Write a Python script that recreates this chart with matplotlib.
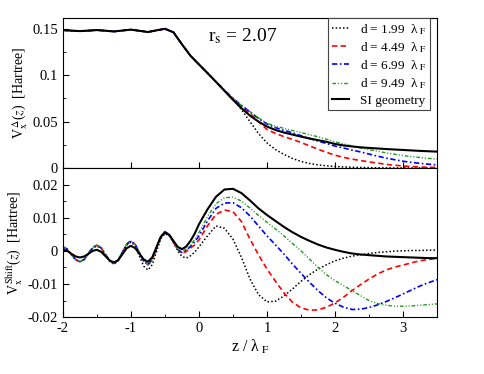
import numpy as np
import matplotlib
matplotlib.use("Agg")
import matplotlib.pyplot as plt
from matplotlib.ticker import MultipleLocator, FuncFormatter

plt.rcParams['font.family'] = ['Liberation Serif', 'DejaVu Serif']
plt.rcParams['mathtext.fontset'] = 'stix'

# sample positions (z / lambda_F)
z_up = np.arange(-2.0, 3.5001, 0.125)
z_lo = np.concatenate([np.arange(-2.0, 0.0, 0.0625), np.arange(0.0, 3.5001, 0.125)])

labels = [r'd = 1.99  λ$_{\rm\ F}$', r'd = 4.49  λ$_{\rm\ F}$',
          r'd = 6.99  λ$_{\rm\ F}$', r'd = 9.49  λ$_{\rm\ F}$',
          'SI geometry']

# ---- upper panel: V_x^Delta(z) ----
up_common = [0.1488, 0.1483, 0.1478, 0.1483, 0.1489, 0.1482, 0.1474, 0.1484,
             0.1494, 0.1481, 0.1468, 0.1486, 0.1503, 0.1465, 0.1335, 0.1212,
             0.1118, 0.1025, 0.0930]
up_d199 = [0.0838, 0.0745, 0.0630, 0.0500, 0.0372, 0.0270, 0.0198, 0.0146,
           0.0102, 0.0070, 0.0048, 0.0033, 0.0023, 0.0016, 0.0011, 0.0007,
           0.0005, 0.0003, 0.0002, 0.0001, 0.0, 0.0, 0.0, 0.0, 0.0, 0.0]
up_d449 = [0.0838, 0.0748, 0.0665, 0.0590, 0.0500, 0.0415, 0.0372, 0.0338,
           0.0308, 0.0275, 0.0238, 0.0202, 0.0168, 0.0137, 0.0114, 0.0095,
           0.0080, 0.0065, 0.0052, 0.0039, 0.0029, 0.0021, 0.0015, 0.0010,
           0.0007, 0.0005]
up_d699 = [0.0840, 0.0752, 0.0675, 0.0605, 0.0535, 0.0475, 0.0435, 0.0405,
           0.0380, 0.0348, 0.0318, 0.0290, 0.0264, 0.0236, 0.0215, 0.0193,
           0.0173, 0.0150, 0.0127, 0.0106, 0.0089, 0.0072, 0.0060, 0.0049,
           0.0040, 0.0032]
up_d949 = [0.0840, 0.0752, 0.0675, 0.0608, 0.0540, 0.0482, 0.0452, 0.0427,
           0.0404, 0.0382, 0.0360, 0.0336, 0.0310, 0.0282, 0.0260, 0.0236,
           0.0215, 0.0197, 0.0180, 0.0163, 0.0148, 0.0134, 0.0122, 0.0112,
           0.0103, 0.0095]
up_si = [0.0832, 0.0735, 0.0645, 0.0565, 0.0500, 0.0447, 0.0410, 0.0382,
         0.0360, 0.0338, 0.0318, 0.0300, 0.0282, 0.0259, 0.0243, 0.0232,
         0.0223, 0.0216, 0.0210, 0.0204, 0.0199, 0.0194, 0.0189, 0.0184,
         0.0180, 0.0176]

# ---- lower panel: V_x^Shift(z) ----
osc_col = [0.0012, 0.0005, -0.0011, -0.0026, -0.0033, -0.0026, -0.0008, 0.0010,
           0.0017, 0.0009, -0.0011, -0.0030, -0.0038, -0.0028, -0.0004, 0.0020,
           0.0030, 0.0019, -0.0006, -0.0031, -0.0042, -0.0027, 0.0008, 0.0043,
           0.0058, 0.0049, 0.0027, 0.0004]
lo_d199 = [0.0010, 0.0004, -0.0012, -0.0027, -0.0033, -0.0026, -0.0009, 0.0008,
           0.0015, 0.0007, -0.0013, -0.0032, -0.0040, -0.0030, -0.0007, 0.0017,
           0.0027, 0.0015, -0.0016, -0.0046, -0.0058, -0.0042, -0.0003, 0.0036,
           0.0052, 0.0045, 0.0025, 0.0000,
           -0.0017, -0.0022, -0.0015, -0.0004,
           0.0012, 0.0045, 0.0075, 0.0068, 0.0035, -0.0020, -0.0085, -0.0132,
           -0.0154, -0.0152, -0.0136, -0.0115, -0.0092, -0.0072, -0.0055, -0.0042,
           -0.0030, -0.0022, -0.0016, -0.0012, -0.0008, -0.0005, -0.0003, -0.0001,
           0.0000, 0.0001, 0.0001, 0.0002, 0.0002]
lo_d449 = osc_col + [-0.0008, -0.0002, 0.0008, 0.0018,
                     0.0033, 0.0075, 0.0110, 0.0123, 0.0118, 0.0088, 0.0035, -0.0012,
                     -0.0055, -0.0092, -0.0127, -0.0155, -0.0172, -0.0179, -0.0178, -0.0170,
                     -0.0157, -0.0140, -0.0120, -0.0102, -0.0085, -0.0070, -0.0058, -0.0049,
                     -0.0043, -0.0036, -0.0030, -0.0026, -0.0023]
lo_d699 = osc_col + [-0.0005, 0.0002, 0.0013, 0.0027,
                     0.0045, 0.0090, 0.0128, 0.0144, 0.0145, 0.0130, 0.0105, 0.0075,
                     0.0045, 0.0018, -0.0010, -0.0040, -0.0068, -0.0095, -0.0120, -0.0142,
                     -0.0158, -0.0170, -0.0177, -0.0176, -0.0171, -0.0163, -0.0153, -0.0142,
                     -0.0130, -0.0118, -0.0106, -0.0096, -0.0087]
lo_d949 = osc_col + [-0.0003, 0.0006, 0.0018, 0.0034,
                     0.0055, 0.0103, 0.0142, 0.0160, 0.0162, 0.0150, 0.0129, 0.0107,
                     0.0086, 0.0066, 0.0045, 0.0022, 0.0000, -0.0025, -0.0050, -0.0072,
                     -0.0090, -0.0105, -0.0120, -0.0135, -0.0150, -0.0159, -0.0164, -0.0167,
                     -0.0167, -0.0166, -0.0164, -0.0162, -0.0160]
lo_si = [0.0003, 0.0000, -0.0009, -0.0017, -0.0020, -0.0017, -0.0009, 0.0000,
         0.0003, -0.0003, -0.0016, -0.0029, -0.0035, -0.0028, -0.0010, 0.0008,
         0.0015, 0.0008, -0.0009, -0.0026, -0.0033, -0.0020, 0.0011, 0.0042,
         0.0055, 0.0048, 0.0030, 0.0012,
         0.0005, 0.0013, 0.0030, 0.0052,
         0.0080, 0.0125, 0.0163, 0.0185, 0.0187, 0.0174, 0.0152, 0.0128,
         0.0108, 0.0090, 0.0072, 0.0056, 0.0042, 0.0030, 0.0019, 0.0010,
         0.0003, -0.0003, -0.0008, -0.0011, -0.0013, -0.0015, -0.0017, -0.0018,
         -0.0019, -0.0020, -0.0021, -0.0022, -0.0022]

styles = [dict(color='black', ls=(0, (1, 1.4)), lw=1.1),
          dict(color='#ff0000', ls=(0, (3.2, 2)), lw=1.2),
          dict(color='#0000ff', ls=(0, (3.2, 1.5, 1, 1.5)), lw=1.2),
          dict(color='#1f9a1f', ls=(0, (2.6, 1.4, 0.8, 1.4, 0.8, 1.4)), lw=1.0),
          dict(color='black', ls='-', lw=1.5)]

fig = plt.figure(figsize=(4.84, 3.74), dpi=100)
ax1 = fig.add_axes([0.130, 0.551, 0.773, 0.401])
ax2 = fig.add_axes([0.130, 0.152, 0.773, 0.399], sharex=ax1)

up_series = [up_d199, up_d449, up_d699, up_d949, up_si]
lo_series = [lo_d199, lo_d449, lo_d699, lo_d949, lo_si]
for tail, st, lab in zip(up_series, styles, labels):
    ax1.plot(z_up, up_common + tail, label=lab, **st)
for vals, st in zip(lo_series, styles):
    ax2.plot(z_lo, vals, **st)

fmt = FuncFormatter(lambda v, p: '%g' % round(v, 6))
for ax in (ax1, ax2):
    ax.tick_params(which='both', direction='in', top=False, right=False,
                   labelsize=10.5)
    ax.tick_params(which='major', length=4.5)
    ax.tick_params(which='minor', length=2.5)
    ax.yaxis.set_major_formatter(fmt)
    ax.xaxis.set_major_formatter(fmt)

ax1.set_xlim(-2, 3.5)
ax1.set_ylim(0, 0.162)
ax1.yaxis.set_major_locator(MultipleLocator(0.05))
ax1.yaxis.set_minor_locator(MultipleLocator(0.025))
ax1.xaxis.set_major_locator(MultipleLocator(1))
ax1.tick_params(axis='x', which='minor', bottom=False)
ax1.tick_params(axis='x', labelbottom=False)

ax2.set_ylim(-0.02, 0.025)
ax2.yaxis.set_major_locator(MultipleLocator(0.01))
ax2.yaxis.set_minor_locator(MultipleLocator(0.005))
ax2.xaxis.set_minor_locator(MultipleLocator(0.5))

ax1.set_ylabel(r'V$_{\rm x}^{\,\Delta}$($z$)  [Hartree]', fontsize=10)
ax2.set_ylabel(r'V$_{\rm x}^{\,\rm Shift}$($z$)  [Hartree]', fontsize=10)
ax1.yaxis.set_label_coords(-0.09, 0.5)
ax2.yaxis.set_label_coords(-0.105, 0.5)
ax2.set_xlabel(r'z / λ$_{\rm\ F}$', fontsize=11.5, labelpad=2)

ax1.text(0.388, 0.842, r'r$_{\rm s}$ = 2.07', transform=ax1.transAxes,
         fontsize=14, va='baseline')

leg = ax1.legend(loc='upper right', bbox_to_anchor=(0.981, 1.0),
                 borderaxespad=0, fontsize=9.5, handlelength=1.3,
                 labelspacing=0.25, fancybox=False, framealpha=1,
                 borderpad=0.3, handletextpad=0.8)
leg.get_frame().set_edgecolor('#444444')
leg.get_frame().set_linewidth(0.8)

fig.savefig('out.png', dpi=100)
